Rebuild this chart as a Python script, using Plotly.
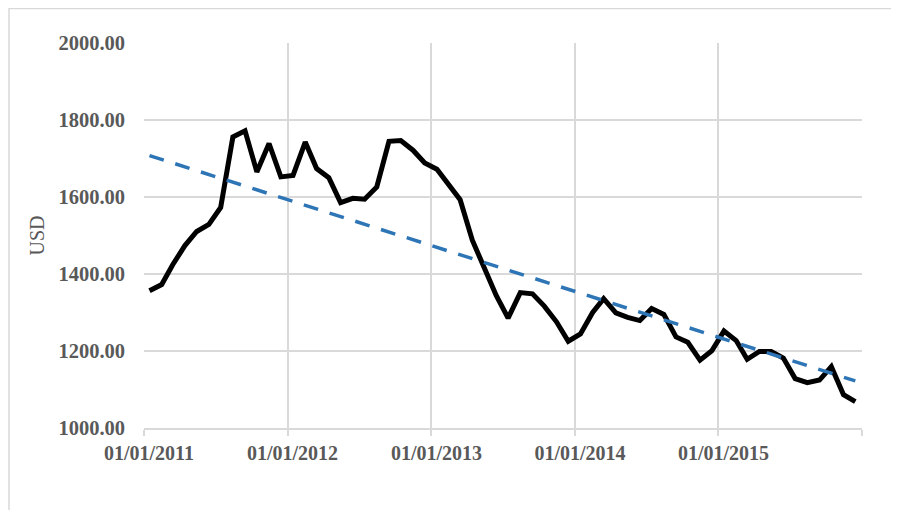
import numpy as np
import pandas as pd
import plotly.graph_objects as go

# Monthly observations (dated mid-month), Jan 2011 - Dec 2015
months = [f"{y}-{m:02d}-15" for y in range(2011, 2016) for m in range(1, 13)]

price_usd = [
    1356.4, 1372.7, 1424.0, 1473.8, 1510.4, 1528.7, 1572.8, 1755.8, 1771.9, 1665.2, 1738.9, 1652.3,
    1656.1, 1742.6, 1673.8, 1650.1, 1585.5, 1596.7, 1594.3, 1626.0, 1744.5, 1746.6, 1721.6, 1688.5,
    1671.9, 1627.6, 1593.1, 1487.9, 1414.0, 1343.4, 1285.5, 1351.7, 1348.6, 1316.6, 1275.8, 1225.4,
    1244.3, 1300.0, 1336.1, 1299.0, 1287.5, 1279.1, 1310.6, 1295.1, 1236.6, 1222.5, 1176.3, 1200.6,
    1251.8, 1227.1, 1178.6, 1198.9, 1198.6, 1181.5, 1128.3, 1117.9, 1124.5, 1159.3, 1086.4, 1068.3,
]

tick_dates = ["2011-01-01", "2012-01-01", "2013-01-01", "2014-01-01", "2015-01-01", "2016-01-01"]
tick_labels = ["01/01/2011", "01/01/2012", "01/01/2013", "01/01/2014", "01/01/2015", ""]
y_ticks = [1000, 1200, 1400, 1600, 1800, 2000]
y_labels = [f"{v:.2f}" for v in y_ticks]

# Linear trendline (least squares on date)
dt = pd.to_datetime(months)
xnum = (dt - dt[0]).days.values.astype(float)
coef = np.polyfit(xnum, np.array(price_usd), 1)
trend = np.polyval(coef, xnum)

GRID = "#d9d9d9"
TXT = "#595959"
FONT = "Liberation Serif, Times New Roman, serif"

fig = go.Figure()
fig.add_trace(go.Scatter(
    x=months, y=price_usd, mode="lines",
    line=dict(color="#000000", width=5),
    hoverinfo="skip", showlegend=False,
))
fig.add_trace(go.Scatter(
    x=[months[0], months[-1]], y=[trend[0], trend[-1]], mode="lines",
    line=dict(color="#2E75B6", width=3.5, dash="15px,12px"),
    hoverinfo="skip", showlegend=False,
))

# page has an 8px body margin; figure sized to fit the 899x510 window
OFF = 8
W, H = 899 - OFF, 510 - OFF
L, T = 144 - OFF, 43 - OFF
R, B = 899 - 862, 510 - 428
pw, ph = W - L - R, H - T - B

fig.add_shape(
    type="rect", xref="paper", yref="paper",
    x0=(9 - OFF - L) / pw, x1=(W + 10 - L) / pw,
    y0=-(B + 10) / ph, y1=1 + (T - 0.5) / ph,
    line=dict(color=GRID, width=1.5), fillcolor="rgba(0,0,0,0)", layer="below",
)

fig.update_layout(
    width=W, height=H,
    margin=dict(l=L, r=R, t=T, b=B, autoexpand=False),
    paper_bgcolor="white", plot_bgcolor="white",
    font=dict(family=FONT, color=TXT),
    xaxis=dict(
        type="date", range=["2011-01-01", "2016-01-01"],
        tickvals=tick_dates, ticktext=tick_labels,
        showgrid=True, gridcolor=GRID, gridwidth=1.5,
        showline=True, linecolor=GRID, linewidth=1.5,
        ticks="outside", ticklen=6, tickcolor=GRID, tickwidth=1.5,
        tickfont=dict(family=FONT, size=20, color=TXT, weight="bold"),
        ticklabelshift=5, ticklabelstandoff=0,
        zeroline=False, fixedrange=True,
    ),
    yaxis=dict(
        range=[1000, 2000],
        tickvals=y_ticks, ticktext=y_labels,
        showgrid=True, gridcolor=GRID, gridwidth=1.5,
        showline=False, ticks="",
        tickfont=dict(family=FONT, size=20.5, color=TXT, weight="bold"),
        ticklabelstandoff=18,
        title=dict(text="USD", font=dict(family=FONT, size=20, color=TXT), standoff=8),
        zeroline=False, fixedrange=True,
    ),
)

fig.write_html("out.html")
